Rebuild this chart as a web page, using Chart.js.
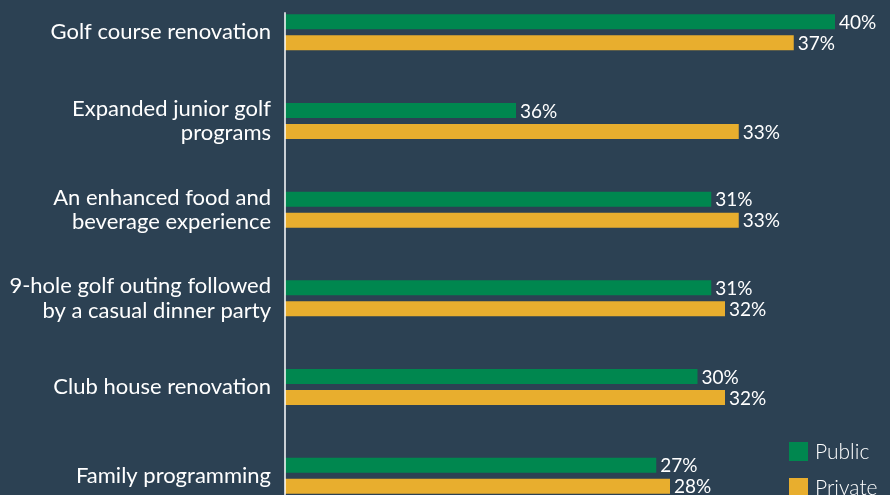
<!DOCTYPE html>
<html>
<head>
<meta charset="utf-8">
<script src="https://cdn.jsdelivr.net/npm/chart.js@4"></script>
<style>
  html, body { margin: 0; padding: 0; background: #2c4153; overflow: hidden; width: 890px; height: 495px; }
  #chart { position: absolute; left: 0; top: -12px; }
</style>
</head>
<body>
<canvas id="chart" width="890" height="532"></canvas>
<script>
// categories (multi-line labels)
const categories = [
  ['Golf course renovation'],
  ['Expanded junior golf', 'programs'],
  ['An enhanced food and', 'beverage experience'],
  ['9-hole golf outing followed', 'by a casual dinner party'],
  ['Club house renovation'],
  ['Family programming']
];
// bar lengths as drawn (the 36% bar in the source is drawn short)
const publicValues = [40, 16.8, 31, 31, 30, 27];
const privateValues = [37, 33, 33, 32, 32, 28];
// printed value labels
const publicText = ['40%', '36%', '31%', '31%', '30%', '27%'];
const privateText = ['37%', '33%', '33%', '32%', '32%', '28%'];
const seriesNames = ['Public', 'Private'];

const GREEN = '#00874f';
const YELLOW = '#e8ae2e';
const FONT = 'Lato, "DejaVu Sans", sans-serif';

// value labels to the right of each bar
const valueLabels = {
  id: 'valueLabels',
  afterDatasetsDraw(chart) {
    const ctx = chart.ctx;
    const texts = [publicText, privateText];
    ctx.save();
    ctx.fillStyle = '#ffffff';
    ctx.font = '19px ' + FONT;
    ctx.textBaseline = 'middle';
    ctx.textAlign = 'left';
    chart.data.datasets.forEach((ds, di) => {
      chart.getDatasetMeta(di).data.forEach((bar, i) => {
        ctx.fillText(texts[di][i], bar.x + 4, bar.y + 1);
      });
    });
    ctx.restore();
  }
};

// white axis line starting just above first bar
const axisLine = {
  id: 'axisLine',
  afterDatasetsDraw(chart) {
    const ctx = chart.ctx;
    const x = chart.scales.x.getPixelForValue(0);
    const first = chart.getDatasetMeta(0).data[0];
    ctx.save();
    ctx.strokeStyle = '#ffffff';
    ctx.lineWidth = 1.5;
    ctx.beginPath();
    ctx.moveTo(x, first.y - first.height / 2 - 2);
    ctx.lineTo(x, chart.chartArea.bottom);
    ctx.stroke();
    ctx.restore();
  }
};

// legend at bottom right (canvas is shifted up 12px)
const cornerLegend = {
  id: 'cornerLegend',
  afterDraw(chart) {
    const ctx = chart.ctx;
    const colors = [GREEN, YELLOW];
    ctx.save();
    ctx.font = '300 21px ' + FONT;
    ctx.textBaseline = 'middle';
    ctx.textAlign = 'left';
    seriesNames.forEach((name, i) => {
      const y = 454 + i * 36;
      ctx.fillStyle = colors[i];
      ctx.fillRect(789, y, 19, 19);
      ctx.fillStyle = '#ffffff';
      ctx.fillText(name, 815, y + 10);
    });
    ctx.restore();
  }
};

new Chart(document.getElementById('chart'), {
  type: 'bar',
  data: {
    labels: categories,
    datasets: [
      { label: seriesNames[0], data: publicValues, backgroundColor: GREEN,
        categoryPercentage: 0.4735, barPercentage: 0.714 },
      { label: seriesNames[1], data: privateValues, backgroundColor: YELLOW,
        categoryPercentage: 0.4735, barPercentage: 0.714 }
    ]
  },
  options: {
    indexAxis: 'y',
    responsive: false,
    animation: false,
    layout: { padding: 0 },
    plugins: {
      legend: { display: false },
      tooltip: { enabled: false }
    },
    scales: {
      x: {
        display: false,
        min: 0,
        max: 44
      },
      y: {
        grid: { display: false, drawTicks: false },
        border: { display: false },
        afterFit(scale) {
          scale.width = 285;
          scale.paddingTop = 0;
          scale.paddingBottom = 0;
        },
        ticks: {
          color: '#ffffff',
          padding: 14,
          font: { family: FONT, size: 22, lineHeight: 1.1 }
        }
      }
    }
  },
  plugins: [valueLabels, axisLine, cornerLegend]
});
</script>
</body>
</html>
